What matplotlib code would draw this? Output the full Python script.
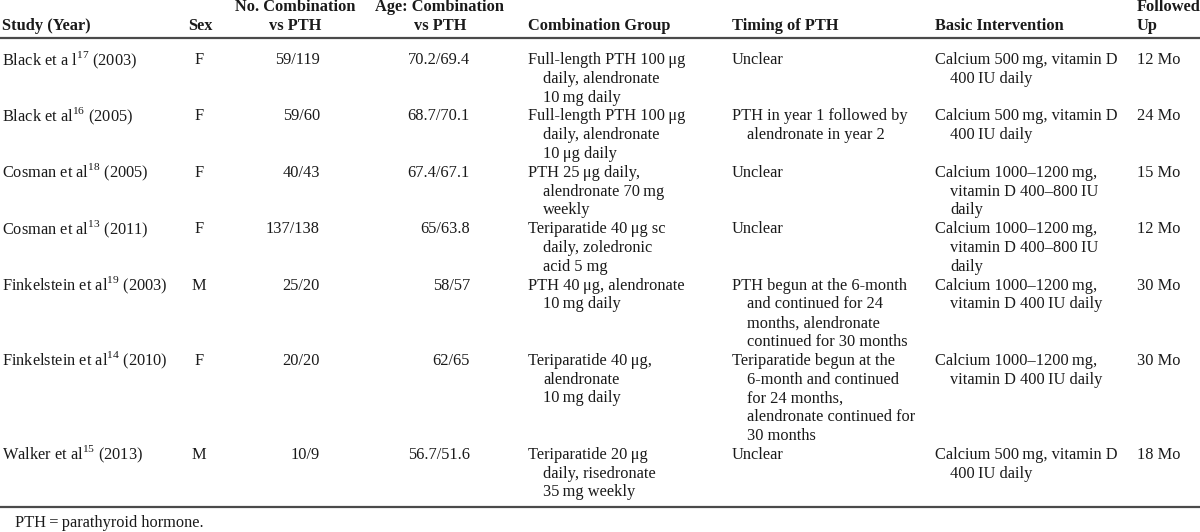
import matplotlib
matplotlib.use('Agg')
import matplotlib.pyplot as plt
from matplotlib.lines import Line2D

plt.rcParams['font.family'] = ['Liberation Serif', 'DejaVu Serif']
plt.rcParams['mathtext.fontset'] = 'custom'
plt.rcParams['mathtext.rm'] = 'Liberation Serif'

TS = '\u2009'  # thin space used between numbers and units
MU = '\u03bc'

# table data
authors = ['Black et a l', 'Black et al', 'Cosman et al', 'Cosman et al',
           'Finkelstein et al', 'Finkelstein et al', 'Walker et al']
refs = ['17', '16', '18', '13', '19', '14', '15']
years = ['2003', '2005', '2005', '2011', '2003', '2010', '2013']
sex = ['F', 'F', 'F', 'F', 'M', 'F', 'M']
n_combo = ['59/119', '59/60', '40/43', '137/138', '25/20', '20/20', '10/9']
age_combo = ['70.2/69.4', '68.7/70.1', '67.4/67.1', '65/63.8', '58/57', '62/65', '56.7/51.6']
combination = [
    [f'Full-length PTH 100{TS}{MU}g', 'daily, alendronate', f'10{TS}mg daily'],
    [f'Full-length PTH 100{TS}{MU}g', 'daily, alendronate', f'10{TS}{MU}g daily'],
    [f'PTH 25{TS}{MU}g daily,', f'alendronate 70{TS}mg', 'weekly'],
    [f'Teriparatide 40{TS}{MU}g sc', 'daily, zoledronic', 'acid 5 mg'],
    [f'PTH 40{TS}{MU}g, alendronate', f'10{TS}mg daily'],
    [f'Teriparatide 40{TS}{MU}g,', 'alendronate', f'10{TS}mg daily'],
    [f'Teriparatide 20{TS}{MU}g', 'daily, risedronate', f'35{TS}mg weekly'],
]
timing = [
    ['Unclear'],
    ['PTH in year 1 followed by', 'alendronate in year 2'],
    ['Unclear'],
    ['Unclear'],
    ['PTH begun at the 6-month', 'and continued for 24', 'months, alendronate',
     'continued for 30 months'],
    ['Teriparatide begun at the', '6-month and continued', 'for 24 months,',
     'alendronate continued for', '30 months'],
    ['Unclear'],
]
basic = [
    [f'Calcium 500{TS}mg, vitamin D', f'400{TS}IU daily'],
    [f'Calcium 500{TS}mg, vitamin D', f'400{TS}IU daily'],
    [f'Calcium 1000\u20131200{TS}mg,', f'vitamin D 400\u2013800{TS}IU', 'daily'],
    [f'Calcium 1000\u20131200{TS}mg,', f'vitamin D 400\u2013800{TS}IU', 'daily'],
    [f'Calcium 1000\u20131200{TS}mg,', f'vitamin D 400{TS}IU daily'],
    [f'Calcium 1000\u20131200{TS}mg,', f'vitamin D 400{TS}IU daily'],
    [f'Calcium 500{TS}mg, vitamin D', f'400{TS}IU daily'],
]
followed = ['12 Mo', '24 Mo', '15 Mo', '12 Mo', '30 Mo', '30 Mo', '18 Mo']

W, H = 1200, 532
fig = plt.figure(figsize=(W / 100, H / 100), dpi=100)
FS = 11.8
INK = '#1a1a1a'


def put(x, y, s, ha='left', bold=False):
    fig.text(x / W, 1 - y / H, s, ha=ha, va='center', fontsize=FS,
             fontweight='bold' if bold else 'normal', color=INK)


def rule(y, lw=1.6):
    fig.add_artist(Line2D([0, 1], [1 - y / H, 1 - y / H], transform=fig.transFigure,
                          color='#4a4a4a', lw=lw))


# header
put(2, 26, 'Study (Year)', bold=True)
put(200, 26, 'Sex', ha='center', bold=True)
put(295, 7, 'No. Combination', ha='center', bold=True)
put(295, 26, 'vs PTH', ha='center', bold=True)
put(440, 7, 'Age: Combination', ha='center', bold=True)
put(440, 26, 'vs PTH', ha='center', bold=True)
put(528, 26, 'Combination Group', bold=True)
put(732, 26, 'Timing of PTH', bold=True)
put(935, 26, 'Basic Intervention', bold=True)
put(1137, 7, 'Followed', bold=True)
put(1137, 26, 'Up', bold=True)
rule(38)

LINE = 18.8
INDENT = 15
y = 60
for i in range(len(authors)):
    put(2, y, f'{authors[i]}$^{{\\mathrm{{{refs[i]}}}}}$ ({years[i]})')
    put(199, y, sex[i], ha='center')
    put(320, y, n_combo[i], ha='right')
    put(470, y, age_combo[i], ha='right')
    for x0, lines in ((528, combination[i]), (732, timing[i]), (935, basic[i])):
        for k, s in enumerate(lines):
            put(x0 + (INDENT if k else 0), y + k * LINE, s)
    put(1137, y, followed[i])
    y += LINE * max(len(combination[i]), len(timing[i]), len(basic[i]), 1)

rule(507)
put(15, 523, 'PTH\u2009=\u2009parathyroid hormone.')

fig.savefig('out.png', dpi=100)
